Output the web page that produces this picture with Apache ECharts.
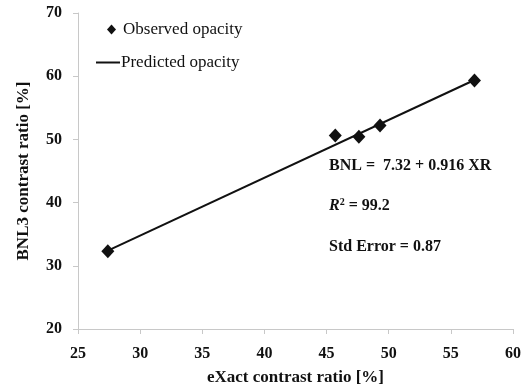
<!DOCTYPE html>
<html>
<head>
<meta charset="utf-8">
<script src="https://cdn.jsdelivr.net/npm/echarts@6/dist/echarts.min.js"></script>
<style>
  html, body { margin: 0; padding: 0; background: #fff; }
  #chart { width: 528px; height: 386px; }
</style>
</head>
<body>
<div id="chart"></div>
<script>
// observed points (eXact vs BNL3)
const obsX = [27.4, 45.7, 47.6, 49.3, 56.9];
const obsY = [32.3, 50.6, 50.4, 52.2, 59.3];
// fitted line end points
const predX = [27.4, 56.9];
const predY = [32.4, 59.4];

const xTicks = [25, 30, 35, 40, 45, 50, 55, 60];
const yTicks = [20, 30, 40, 50, 60, 70];

const serif = '"Liberation Serif", "Times New Roman", serif';
const axisGrey = '#c8c8c8';
const ink = '#111';

const chart = echarts.init(document.getElementById('chart'));

const option = {
    animation: false,
    grid: { left: 78, right: 15, top: 13, bottom: 57, outerBoundsMode: 'none' },
    legend: [
        {
            data: [{ name: 'Observed opacity', icon: 'diamond' }],
            left: 102, top: 16,
            itemWidth: 9, itemHeight: 10, itemGap: 4,
            textStyle: { fontFamily: serif, fontSize: 17, color: ink, padding: [0, 0, 0, 2] }
        },
        {
            data: [{ name: 'Predicted opacity', icon: 'rect' }],
            left: 91, top: 49,
            itemWidth: 24, itemHeight: 2,
            textStyle: { fontFamily: serif, fontSize: 17, color: ink, padding: [0, 0, 0, -4] }
        }
    ],
    xAxis: {
        type: 'value',
        min: xTicks[0], max: xTicks[xTicks.length - 1], interval: 5,
        name: 'eXact contrast ratio [%]',
        nameLocation: 'middle', nameGap: 40,
        nameTextStyle: { fontFamily: serif, fontSize: 17, fontWeight: 'bold', color: ink },
        axisLine: { lineStyle: { color: axisGrey } },
        axisTick: { length: 5, lineStyle: { color: axisGrey } },
        splitLine: { show: false },
        axisLabel: { fontFamily: serif, fontSize: 16, fontWeight: 'bold', color: ink, margin: 17 }
    },
    yAxis: {
        type: 'value',
        min: yTicks[0], max: yTicks[yTicks.length - 1], interval: 10,
        name: 'BNL3 contrast ratio [%]',
        nameLocation: 'middle', nameGap: 46,
        nameTextStyle: { fontFamily: serif, fontSize: 17, fontWeight: 'bold', color: ink },
        axisLine: { show: true, lineStyle: { color: axisGrey } },
        axisTick: { show: true, length: 5, lineStyle: { color: axisGrey } },
        splitLine: { show: false },
        axisLabel: { fontFamily: serif, fontSize: 16, fontWeight: 'bold', color: ink, margin: 16 }
    },
    graphic: [
        {
            type: 'text', left: 329, top: 158,
            style: { text: 'BNL =  7.32 + 0.916 XR', font: 'bold 16px ' + serif, fill: ink }
        },
        {
            type: 'text', left: 329, top: 197,
            style: {
                text: '{i|R}{s|2}{n| = 99.2}',
                rich: {
                    i: { font: 'italic bold 16px ' + serif, fill: ink },
                    s: { font: 'bold 10px ' + serif, fill: ink, verticalAlign: 'top', padding: [0, 0, 8, 0] },
                    n: { font: 'bold 16px ' + serif, fill: ink }
                }
            }
        },
        {
            type: 'text', left: 329, top: 239,
            style: { text: 'Std Error = 0.87', font: 'bold 16px ' + serif, fill: ink }
        }
    ],
    series: [
        {
            name: 'Predicted opacity',
            type: 'line',
            data: predX.map((x, i) => [x, predY[i]]),
            symbol: 'none',
            lineStyle: { color: ink, width: 2 },
            itemStyle: { color: ink },
            z: 2
        },
        {
            name: 'Observed opacity',
            type: 'scatter',
            data: obsX.map((x, i) => [x, obsY[i]]),
            symbol: 'diamond',
            symbolSize: [13, 14],
            itemStyle: { color: ink, opacity: 1 },
            z: 3
        }
    ]
};

chart.setOption(option);
</script>
</body>
</html>
